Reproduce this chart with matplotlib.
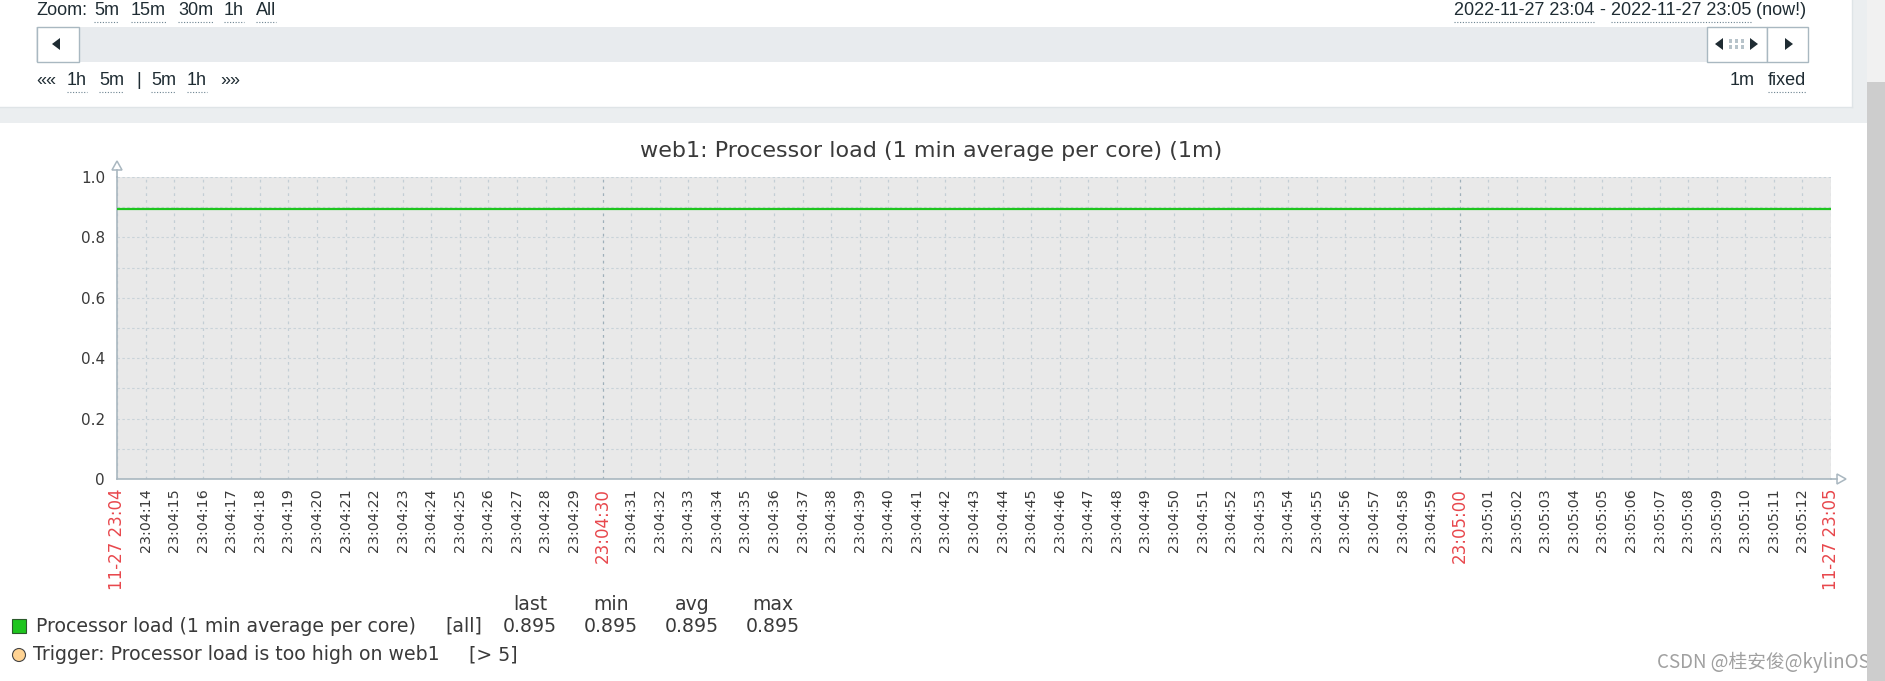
import matplotlib
matplotlib.use('Agg')
import matplotlib.pyplot as plt
import matplotlib.dates as mdates
from matplotlib.patches import Rectangle, Polygon, Ellipse
from matplotlib.lines import Line2D
from matplotlib.ticker import MultipleLocator
import pandas as pd

W, H = 1885, 681

# --- data ---
graph_title = "web1: Processor load (1 min average per core) (1m)"
period_start = "2022-11-27 23:04:13"
period_end = "2022-11-27 23:05:13"
sample_times = ["2022-11-27 23:04:13", "2022-11-27 23:04:43", "2022-11-27 23:05:13"]
load_values = [0.895, 0.895, 0.895]
y_ticks = [0, 0.2, 0.4, 0.6, 0.8, 1.0]
y_labels = ["0", "0.2", "0.4", "0.6", "0.8", "1.0"]
stat_names = ["last", "min", "avg", "max"]
stat_values = ["0.895", "0.895", "0.895", "0.895"]
item_name = "Processor load (1 min average per core)"
item_func = "[all]"
trigger_text = "Trigger: Processor load is too high on web1"
trigger_cond = "[> 5]"
zoom_links = ["5m", "15m", "30m", "1h", "All"]
nav_links = ["««", "1h", "5m", "|", "5m", "1h", "»»"]
range_from = "2022-11-27 23:04"
range_to = "2022-11-27 23:05"
watermark = "CSDN @桂安俊@kylinOS"

fig = plt.figure(figsize=(W / 100, H / 100), dpi=100)
fig.patch.set_facecolor('white')


def fx(x):
    return x / W


def fy(y):
    return 1 - y / H


def box(x0, y0, x1, y1, **kw):
    r = Rectangle((fx(x0), fy(y1)), (x1 - x0) / W, (y1 - y0) / H,
                  transform=fig.transFigure, **kw)
    fig.add_artist(r)
    return r


def tri(pts, **kw):
    p = Polygon([(fx(a), fy(b)) for a, b in pts], closed=True,
                transform=fig.transFigure, **kw)
    fig.add_artist(p)


def txt(x, y, s, **kw):
    return fig.text(fx(x), fy(y), s, **kw)


def line(xs, ys, **kw):
    fig.add_artist(Line2D([fx(v) for v in xs], [fy(v) for v in ys],
                          transform=fig.transFigure, **kw))


# --- page header (time selector) ---
box(0, 107, 1867, 123, color='#ebeef0', lw=0)
box(1852, 0, 1867, 123, color='#ebeef0', lw=0)
line([0, 1852], [107, 107], color='#dfe4e7', lw=1)
line([1852, 1852], [0, 107], color='#dfe4e7', lw=1)

hdr = dict(fontsize=13, color='#1f2c33', family='Liberation Sans', va='baseline')
links = []
txt(36, 15, "Zoom:", **hdr)
for s, x in zip(zoom_links, [94, 131, 178, 224, 256]):
    links.append(txt(x, 15, s, **hdr))
for s, x in zip(nav_links, [36, 67, 99, 136, 151, 187, 220]):
    t = txt(x, 85, s, **hdr)
    if s not in ("««", "»»", "|"):
        links.append(t)
txt(1755, 85, "1m", ha='right', **hdr)
links.append(txt(1806, 85, "fixed", ha='right', **hdr))

# date range, laid out right to left from the right margin
rng_parts = [(range_from, True), (" - ", False), (range_to, True), (" (now!)", False)]
rng_texts = [(txt(0, 15, s, **hdr), u) for s, u in rng_parts]
fig.canvas.draw()
xr = 1806
for t, u in reversed(rng_texts):
    w = t.get_window_extent().width
    xr -= w
    t.set_x(fx(xr))
    if u:
        links.append(t)

# slider bar and buttons
box(36, 27, 1808, 62, color='#e8ebee', lw=0)
box(36.5, 27.5, 79, 61.5, facecolor='white', edgecolor='#a9b8c1', lw=1)
tri([(52, 44), (60, 38), (60, 50)], color='#1f2c33', lw=0)
box(1707, 27.5, 1767, 61.5, facecolor='white', edgecolor='#a9b8c1', lw=1)
box(1767, 27.5, 1808, 61.5, facecolor='white', edgecolor='#a9b8c1', lw=1)
tri([(1715, 44), (1723, 38), (1723, 50)], color='#1f2c33', lw=0)
tri([(1758, 44), (1750, 38), (1750, 50)], color='#1f2c33', lw=0)
tri([(1793, 44), (1785, 38), (1785, 50)], color='#1f2c33', lw=0)
for gx in (1730, 1736, 1742):
    for gy in (41, 47):
        box(gx - 1.5, gy - 1.5, gx + 1.5, gy + 1.5, color='#b7c3ca', lw=0)

# scrollbar
box(1867, 0, 1885, 82, color='#f1f1f1', lw=0)
box(1867, 82, 1885, 681, color='#cdcdcd', lw=0, zorder=5)

# --- graph ---
PL, PT, PR, PB = 117, 177, 1831, 479
ax = fig.add_axes([fx(PL), fy(PB), (PR - PL) / W, (PB - PT) / H])
ax.set_facecolor('#e9e9e9')

t0 = mdates.date2num(pd.Timestamp(period_start).to_pydatetime())
t1 = mdates.date2num(pd.Timestamp(period_end).to_pydatetime())
xs = [mdates.date2num(pd.Timestamp(s).to_pydatetime()) for s in sample_times]
ax.plot(xs, load_values, color='#1ec51e', lw=1.6, zorder=3, solid_capstyle='butt')
ax.set_xlim(t0, t1)
ax.set_ylim(0, 1)

tick_times = pd.date_range(period_start, period_end, freq='1s')
ax.set_xticks([mdates.date2num(t.to_pydatetime()) for t in tick_times])
labels = []
for i, t in enumerate(tick_times):
    if i == 0 or i == len(tick_times) - 1:
        labels.append(t.strftime('%m-%d %H:%M'))
    else:
        labels.append(t.strftime('%H:%M:%S'))
ax.set_xticklabels(labels, rotation=90, va='top', ha='center',
                   fontsize=10.3, color='#3a3a3a')
for i, (t, lab) in enumerate(zip(tick_times, ax.get_xticklabels())):
    edge = i == 0 or i == len(tick_times) - 1
    if edge or t.second in (0, 30):
        lab.set_color('#e8474c')
        lab.set_fontsize(12)

ax.set_yticks(y_ticks)
ax.set_yticklabels(y_labels, fontsize=11, color='#3a3a3a')
ax.yaxis.set_minor_locator(MultipleLocator(0.1))
ax.tick_params(axis='x', length=0, pad=6.5)
ax.tick_params(axis='y', which='both', length=0, pad=8.6)

ax.grid(axis='y', which='both', color='#c9d3d9', lw=0.8, linestyle=(0, (2.2, 2.2)))
ax.grid(axis='x', which='major', color='#c3ced5', lw=0.9, linestyle=(0, (2.2, 3.2)))
for gl, t in zip(ax.get_xgridlines(), tick_times):
    if t.second in (0, 30):
        gl.set_color('#9fb0ba')
ax.set_axisbelow(True)

for s in ('top', 'right'):
    ax.spines[s].set_visible(False)
for s in ('left', 'bottom'):
    ax.spines[s].set_color('#a9b7c0')
    ax.spines[s].set_linewidth(1.2)

# axis arrows
line([PL, PL], [PT, 170], color='#a9b7c0', lw=1.2)
tri([(112, 170), (122, 170), (117, 161)], facecolor='white', edgecolor='#a9b7c0', lw=1.1)
line([PR, 1837], [PB, PB], color='#a9b7c0', lw=1.2)
tri([(1837, 474), (1837, 484), (1846, 479)], facecolor='white', edgecolor='#a9b7c0', lw=1.1)

txt(931, 151, graph_title, ha='center', va='center', fontsize=16, color='#3a3a3a')

# --- legend ---
lg = dict(fontsize=13.6, color='#3a3a3a', va='center')
for name, val, cx in zip(stat_names, stat_values, [530, 611, 692, 773]):
    txt(cx, 605, name, ha='center', **lg)
    txt(cx, 626, val, ha='center', **lg)
box(12, 619, 26, 633, facecolor='#1ec51e', edgecolor='#2b5a2b', lw=0.8)
txt(36, 626, item_name, **lg)
txt(445, 626, item_func, **lg)
fig.add_artist(Ellipse((fx(19), fy(655)), 13 / W, 13 / H, transform=fig.transFigure,
                       facecolor='#ffd393', edgecolor='#444444', lw=0.8))
txt(33, 655, trigger_text, **lg)
txt(469, 655, trigger_cond, **lg)

txt(1870, 662, watermark, ha='right', va='center', fontsize=13.5, color='#a0a0a0',
    family=['Noto Sans CJK SC', 'DejaVu Sans'])

# dotted underlines under the header links
fig.canvas.draw()
for t in links:
    bb = t.get_window_extent()
    yline = bb.y0 - 3
    fig.add_artist(Line2D([bb.x0 / W, bb.x1 / W], [yline / H, yline / H],
                          transform=fig.transFigure, color='#6d8391', lw=0.8,
                          linestyle=(0, (1, 1.5))))

fig.savefig('out.png', dpi=100, facecolor=fig.get_facecolor())
